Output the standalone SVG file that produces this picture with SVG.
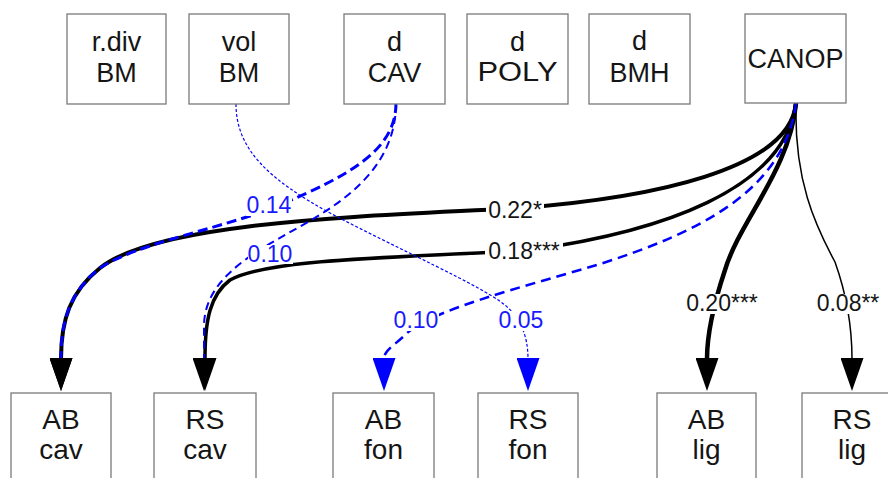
<svg xmlns="http://www.w3.org/2000/svg" width="888" height="478" viewBox="0 0 888 478">
<style>
.box{fill:#fff;stroke:#7a7a7a;stroke-width:1.3}
.nt{font-family:"Liberation Sans",Arial,sans-serif;font-size:27px;fill:#151515;text-anchor:middle}
.bt{font-family:"Liberation Sans",Arial,sans-serif;font-size:28px;fill:#151515;text-anchor:middle}
.e{fill:none;stroke-linecap:butt}
.k{stroke:#000}
.b{stroke:#0000ff}
.lb{fill:#fff;stroke:none}
.lt{font-family:"Liberation Sans",Arial,sans-serif;font-size:23px;text-anchor:middle}
.lk{fill:#151515}
.lbl{fill:#1a1aff}
</style>
<defs>
<marker id="ak" markerUnits="userSpaceOnUse" viewBox="0 0 33 23" markerWidth="33" markerHeight="23" refX="1" refY="11.5" orient="auto"><path d="M0,0 L33,11.5 L0,23 Z" fill="#000"/></marker>
<marker id="ab" markerUnits="userSpaceOnUse" viewBox="0 0 33 23" markerWidth="33" markerHeight="23" refX="1" refY="11.5" orient="auto"><path d="M0,0 L33,11.5 L0,23 Z" fill="#0000ff"/></marker>
</defs>
<rect width="888" height="478" fill="#fff"/>

<g id="edges">
<path id="e-canop-abcav" class="e k" stroke-width="4" marker-end="url(#ak)" d="M796,103 C790,170 650,198 520,208 C380,216 160,220 100,268 C70,292 61,320 61,359"/>
<path id="e-canop-rscav" class="e k" stroke-width="3.5" marker-end="url(#ak)" d="M796,103 C785,190 660,232 530,250 C400,258 270,258 230,280 C210,295 205,320 205,359"/>
<path id="e-canop-ablig" class="e k" stroke-width="4.5" marker-end="url(#ak)" d="M796,103 C790,170 740,220 725,270 C715,300 707,330 707,359"/>
<path id="e-canop-rslig" class="e k" stroke-width="1.5" marker-end="url(#ak)" d="M796,103 C794,180 815,225 835,262 C845,290 852,320 852,359"/>
<path id="e-dcav-abcav" class="e b" stroke-width="3" stroke-dasharray="10,5" marker-end="url(#ak)" d="M396,103 C396,150 350,175 280,205 C225,228 140,242 100,268 C70,292 61,320 61,359"/>
<path id="e-dcav-rscav" class="e b" stroke-width="2" stroke-dasharray="8,5" marker-end="url(#ak)" d="M396,103 C396,170 340,205 290,232 C250,255 205,280 204,325 L204,359"/>
<path id="e-canop-abfon" class="e b" stroke-width="2.5" stroke-dasharray="10,6" marker-end="url(#ab)" d="M796,103 C785,190 700,232 600,264 C520,288 430,310 405,335 C395,345 384,350 384,359"/>
<path id="e-volbm-rsfon" class="e b" stroke-width="1.2" stroke-dasharray="3,2" marker-end="url(#ab)" d="M236,104 C236,150 270,180 330,213 C400,250 480,285 505,305 C520,318 528,335 528,359"/>
</g>

<g id="edge-labels">
<rect class="lb" x="486" y="201" width="58" height="20"/><text class="lt lk" x="515" y="218">0.22*</text>
<rect class="lb" x="485" y="242" width="78" height="20"/><text class="lt lk" x="524" y="259">0.18***</text>
<rect class="lb" x="246" y="196" width="46" height="20"/><text class="lt lbl" x="269" y="213">0.14</text>
<rect class="lb" x="248" y="245" width="45" height="19"/><text class="lt lbl" x="270" y="262">0.10</text>
<rect class="lb" x="393" y="311" width="46" height="20"/><text class="lt lbl" x="416" y="328">0.10</text>
<rect class="lb" x="498" y="311" width="46" height="20"/><text class="lt lbl" x="521" y="328">0.05</text>
<rect class="lb" x="685" y="294" width="74" height="20"/><text class="lt lk" x="722" y="311">0.20***</text>
<rect class="lb" x="815" y="294" width="66" height="20"/><text class="lt lk" x="848" y="311">0.08**</text>
</g>

<g id="n-rdivbm"><rect class="box" x="67" y="14" width="99" height="90"/><text class="nt" x="116.5" y="51">r.div</text><text class="nt" x="116.5" y="82">BM</text></g>
<g id="n-volbm"><rect class="box" x="189" y="14" width="100" height="90"/><text class="nt" x="239" y="51">vol</text><text class="nt" x="239" y="82">BM</text></g>
<g id="n-dcav"><rect class="box" x="344" y="14" width="101" height="90"/><text class="nt" x="394.5" y="51">d</text><text class="nt" x="394.5" y="82">CAV</text></g>
<g id="n-dpoly"><rect class="box" x="467" y="14" width="101" height="90"/><text class="nt" x="517.5" y="51">d</text><text class="nt" x="517.5" y="81" textLength="80" lengthAdjust="spacingAndGlyphs">POLY</text></g>
<g id="n-dbmh"><rect class="box" x="589" y="14" width="101" height="90"/><text class="nt" x="639.5" y="50">d</text><text class="nt" x="639.5" y="82">BMH</text></g>
<g id="n-canop"><rect class="box" x="745" y="14" width="101" height="89"/><text class="nt" x="795.5" y="68">CANOP</text></g>

<g id="n-abcav"><rect class="box" x="11" y="393" width="100" height="92"/><text class="bt" x="61" y="429">AB</text><text class="bt" x="61" y="459">cav</text></g>
<g id="n-rscav"><rect class="box" x="154" y="393" width="102" height="92"/><text class="bt" x="205" y="429">RS</text><text class="bt" x="205" y="459">cav</text></g>
<g id="n-abfon"><rect class="box" x="333" y="393" width="101" height="92"/><text class="bt" x="383.5" y="429">AB</text><text class="bt" x="383.5" y="459">fon</text></g>
<g id="n-rsfon"><rect class="box" x="478" y="393" width="100" height="92"/><text class="bt" x="528" y="429">RS</text><text class="bt" x="528" y="459">fon</text></g>
<g id="n-ablig"><rect class="box" x="657" y="393" width="99" height="92"/><text class="bt" x="706.5" y="429">AB</text><text class="bt" x="706.5" y="459">lig</text></g>
<g id="n-rslig"><rect class="box" x="802" y="393" width="100" height="92"/><text class="bt" x="852" y="429">RS</text><text class="bt" x="852" y="459">lig</text></g>
</svg>
